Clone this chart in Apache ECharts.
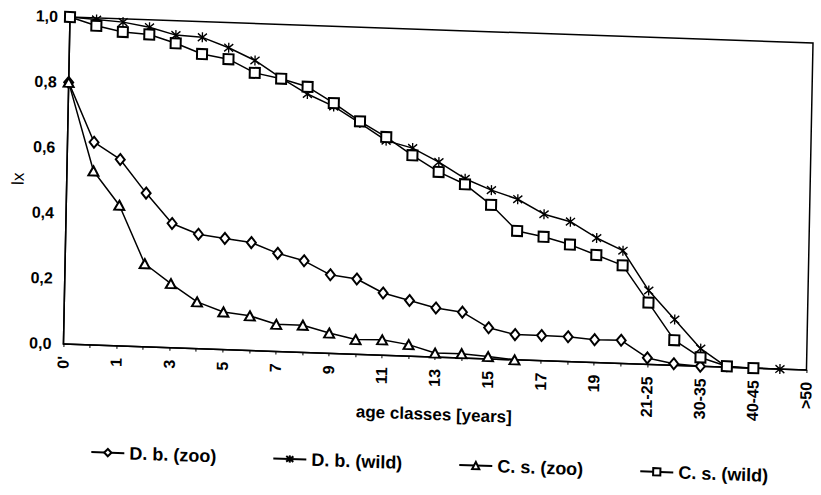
<!DOCTYPE html>
<html><head><meta charset="utf-8">
<script src="https://cdn.jsdelivr.net/npm/echarts@6.0.0/dist/echarts.min.js"></script>
<style>
html,body{margin:0;padding:0;background:#fff;overflow:hidden;width:821px;height:495px}
#c{width:821px;height:495px;transform-origin:70px 17px;transform:matrix(1,0.035,-0.02,1,0,0)}
</style></head><body><div id="c"></div>
<script>
// Categories (age classes)
const categories = ["0'","0","1","2","3","4","5","6","7","8","9","10","11","12","13","14","15","16","17","18","19","20","21-25","26-30","30-35","36-40","40-45","46-50",">50"];
const yTickLabels = ["0,0","0,2","0,4","0,6","0,8","1,0"];
const seriesNames = ["D. b. (zoo)","D. b. (wild)","C. s. (zoo)","C. s. (wild)"];
// lx values
const dbZoo  = [0.80,0.62,0.57,0.47,0.38,0.35,0.34,0.33,0.30,0.28,0.24,0.23,0.19,0.17,0.15,0.14,0.095,0.077,0.077,0.076,0.070,0.071,0.020,0.005,0];
const dbWild = [1.0,0.995,0.99,0.977,0.956,0.952,0.923,0.887,0.836,0.79,0.755,0.707,0.656,0.636,0.596,0.548,0.516,0.491,0.448,0.428,0.381,0.345,0.226,0.140,0.054,0,0,0];
const csZoo  = [0.80,0.532,0.430,0.254,0.196,0.143,0.115,0.106,0.083,0.083,0.062,0.045,0.047,0.035,0.012,0.013,0.007,0];
const csWild = [1.0,0.976,0.960,0.955,0.931,0.901,0.888,0.849,0.834,0.812,0.765,0.712,0.667,0.614,0.566,0.531,0.471,0.394,0.379,0.358,0.329,0.300,0.189,0.077,0.027,0.003,0];

const FONT = 'Liberation Sans, Arial, sans-serif';
const asterisk = 'path://M0,0L10,10M10,0L0,10M5,-1.5L5,11.5';
function mk(name, data, symbol, size) {
  return {
    name: name, type: 'line', data: data, symbol: symbol, symbolSize: size,
    showSymbol: true,
    lineStyle: {color: '#000', width: 1.5},
    itemStyle: {color: '#000', borderColor: '#000', borderWidth: 1.4},
    emphasis: {disabled: true},
    animation: false
  };
}
const chart = echarts.init(document.getElementById('c'), null, {renderer: 'svg'});
chart.setOption({
  backgroundColor: '#fff',
  animation: false,
  grid: {left: 70, top: 17, width: 749, height: 327, show: true, borderColor: '#000', borderWidth: 1.5, containLabel: false},
  legend: {
    left: 94, top: 437, itemGap: 56, itemWidth: 33, itemHeight: 9,
    textStyle: {fontFamily: FONT, fontSize: 18, fontWeight: 'bold', color: '#000'},
    data: seriesNames
  },
  xAxis: {
    type: 'category', data: categories, boundaryGap: false,
    name: 'age classes [years]', nameLocation: 'middle', nameGap: 49, nameMoveOverlap: false,
    nameTextStyle: {fontFamily: FONT, fontSize: 17, fontWeight: 'bold', color: '#000'},
    axisLine: {lineStyle: {color: '#000', width: 1.5}},
    axisTick: {show: true, interval: 0, length: 3, lineStyle: {color: '#000'}},
    axisLabel: {interval: 1, rotate: 90, margin: 12, fontFamily: FONT, fontSize: 16, fontWeight: 'bold', color: '#000'},
    splitLine: {show: false}
  },
  yAxis: {
    type: 'value', min: 0, max: 1, interval: 0.2,
    name: 'lx', nameLocation: 'middle', nameGap: 40, nameRotate: 90, nameMoveOverlap: false,
    nameTextStyle: {fontFamily: FONT, fontSize: 17, color: '#000'},
    axisLine: {show: true, lineStyle: {color: '#000', width: 1.5}},
    axisTick: {show: false},
    splitLine: {show: false},
    axisLabel: {margin: 12, fontFamily: FONT, fontSize: 16, fontWeight: 'bold', color: '#000',
      formatter: function (v) { return yTickLabels[Math.round(v / 0.2)]; }}
  },
  series: [
    mk(seriesNames[0], dbZoo, 'emptyDiamond', [9, 11]),
    mk(seriesNames[1], dbWild, asterisk, [9, 10]),
    mk(seriesNames[2], csZoo, 'emptyTriangle', [10, 9]),
    mk(seriesNames[3], csWild, 'emptyRect', [10, 10])
  ]
});
</script></body></html>
